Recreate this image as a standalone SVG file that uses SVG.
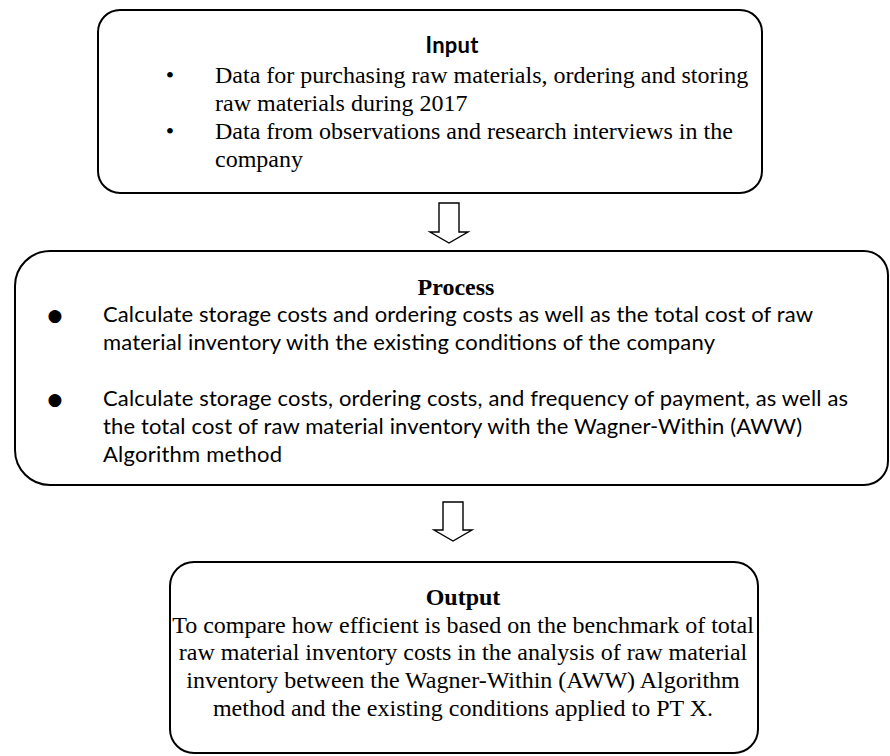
<svg xmlns="http://www.w3.org/2000/svg" width="890" height="756" viewBox="0 0 890 756">
  <style>
    .box { fill: #ffffff; stroke: #000000; stroke-width: 2; }
    .arrow { fill: #ffffff; stroke: #000000; stroke-width: 1.4; stroke-linejoin: miter; }
    .serif { font-family: "Liberation Serif", "Times New Roman", serif; font-size: 24px; fill: #000000; }
    .sans { font-family: Lato, "Noto Sans", "Liberation Sans", sans-serif; font-size: 22px; fill: #000000; }
    .bold { font-weight: 700; }
    .mid { text-anchor: middle; }
    .dot { font-family: "DejaVu Sans", sans-serif; font-size: 17px; fill: #000000; text-anchor: middle; }
  </style>

  <rect width="890" height="756" fill="#ffffff"/>

  <!-- Input stage -->
  <g id="input">
    <rect class="box" x="98" y="10" width="664" height="183" rx="22" ry="22"/>
    <text class="sans bold mid" x="452" y="53" textLength="53">Input</text>
    <text class="serif mid" x="170" y="83">•</text>
    <text class="serif" x="215" y="83">Data for purchasing raw materials, ordering and storing</text>
    <text class="serif" x="215" y="111">raw materials during 2017</text>
    <text class="serif mid" x="170" y="139">•</text>
    <text class="serif" x="215" y="139">Data from observations and research interviews in the</text>
    <text class="serif" x="215" y="167">company</text>
  </g>

  <!-- Process stage -->
  <g id="process">
    <path class="box" d="M50,251 H864 A24,24 0 0 1 888,275 V461 A24,24 0 0 1 864,485 H50 A35,35 0 0 1 15,450 V286 A35,35 0 0 1 50,251 Z"/>
    <text class="serif bold mid" x="456" y="295">Process</text>
    <text class="dot" x="55" y="321">●</text>
    <text class="sans" x="103" y="322" textLength="710">Calculate storage costs and ordering costs as well as the total cost of raw</text>
    <text class="sans" x="103" y="350" textLength="612">material inventory with the existing conditions of the company</text>
    <text class="dot" x="55" y="405">●</text>
    <text class="sans" x="103" y="406" textLength="745">Calculate storage costs, ordering costs, and frequency of payment, as well as</text>
    <text class="sans" x="103" y="434" textLength="699">the total cost of raw material inventory with the Wagner-Within (AWW)</text>
    <text class="sans" x="103" y="462" textLength="179">Algorithm method</text>
  </g>

  <!-- Output stage -->
  <g id="output">
    <rect class="box" x="170" y="562" width="588" height="191" rx="24" ry="24"/>
    <text class="serif bold mid" x="463" y="605">Output</text>
    <text class="serif mid" x="463" y="633">To compare how efficient is based on the benchmark of total</text>
    <text class="serif mid" x="463" y="660">raw material inventory costs in the analysis of raw material</text>
    <text class="serif mid" x="463" y="688">inventory between the Wagner-Within (AWW) Algorithm</text>
    <text class="serif mid" x="463" y="716">method and the existing conditions applied to PT X.</text>
  </g>

  <!-- Block arrows between stages -->
  <g id="connectors">
    <path class="arrow" d="M439,203 H459 V232 H468 L449,243 L430,232 H439 Z"/>
    <path class="arrow" d="M443,502 H463 V530 H472 L453,541 L434,530 H443 Z"/>
  </g>
</svg>
